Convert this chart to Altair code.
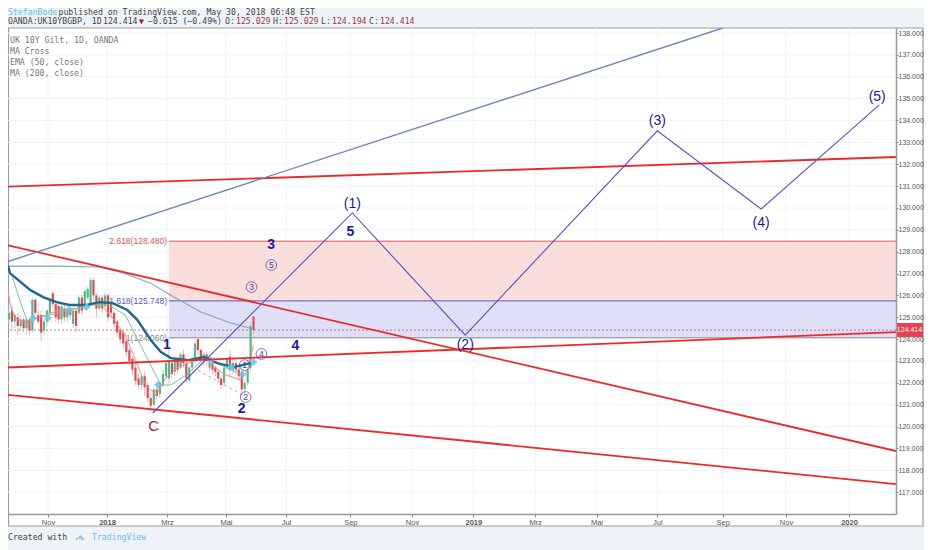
import altair as alt
import numpy as np
import pandas as pd

MONO = "DejaVu Sans Mono"
SANS = "Liberation Sans"

candle_dates = pd.date_range("2017-09-22", periods=84, freq="3D").strftime("%Y-%m-%d").tolist()
opens = [124.9,125.3,124.8,125.0,124.6,124.9,124.5,124.9,124.4,125.8,125.1,125.1,124.4,124.8,125.2,126.1,125.6,125.5,124.9,125.4,
         125.0,125.4,124.7,125.3,125.2,125.9,125.4,125.9,125.6,126.7,126.0,125.4,125.9,125.5,126.0,125.6,125.2,124.8,124.4,124.3,
         123.9,123.5,123.1,122.7,122.2,121.9,122.3,121.9,121.3,121.0,121.7,121.5,121.9,122.3,122.2,122.9,122.5,123.1,122.7,123.3,
         122.9,122.1,122.7,123.0,124.0,123.5,123.0,123.3,122.7,122.9,122.7,122.5,122.2,122.0,122.7,123.2,122.6,122.9,122.6,122.5,
         121.7,122.0,122.7,125.029]
closes = [125.2,124.8,125.1,124.6,124.9,124.5,124.9,124.4,125.8,125.2,124.8,124.3,124.8,125.3,125.8,125.6,125.0,124.9,125.5,125.0,
          125.4,125.1,125.3,124.6,125.9,125.3,126.2,126.3,126.7,126.0,125.4,125.9,125.4,126.0,125.0,125.2,124.7,124.3,124.0,123.8,
          123.4,123.0,122.6,122.1,121.9,122.3,121.8,121.3,120.95,121.7,121.4,122.0,122.4,122.9,123.0,122.4,123.1,122.6,123.3,122.9,
          122.2,122.7,123.1,123.8,123.5,123.1,123.3,123.0,123.0,122.6,122.5,122.2,121.9,122.7,123.1,122.6,122.9,122.6,122.3,121.7,
          122.0,122.6,124.6,124.414]
highs = [125.4,125.5,125.2,125.2,125.1,125.0,125.0,125.0,125.9,125.9,125.3,125.3,124.9,125.4,125.9,126.2,125.8,125.7,125.6,125.6,
         125.5,125.6,125.4,125.4,126.0,126.0,126.3,126.4,126.8,126.8,126.1,126.0,126.0,126.1,126.1,125.7,125.3,124.9,124.5,124.4,
         124.0,123.6,123.2,122.9,122.4,122.4,122.5,122.0,121.5,121.8,122.0,122.1,122.6,123.0,123.6,123.0,123.2,123.2,123.4,123.5,
         123.1,122.8,123.2,123.9,124.1,123.6,123.4,123.4,123.1,123.0,122.8,122.6,122.3,122.8,123.2,123.5,123.2,123.0,122.7,122.6,
         122.1,122.7,124.8,125.029]
lows = [124.7,124.4,124.5,124.2,124.4,124.3,124.2,124.2,124.3,125.1,124.7,123.9,124.2,124.6,125.1,125.4,124.8,124.7,124.7,124.8,
        124.8,124.9,124.5,124.3,125.1,125.1,125.3,125.8,125.5,125.8,125.0,125.3,125.2,125.4,124.8,125.0,124.5,124.1,123.8,123.6,
        123.2,122.8,122.4,121.9,121.7,121.7,121.4,121.1,120.7,120.6,121.2,121.3,121.8,122.2,122.0,122.2,122.3,122.4,122.6,122.7,
        122.0,122.0,122.5,122.8,123.3,122.9,122.8,122.8,122.5,122.4,122.3,122.0,121.7,121.8,122.6,122.3,122.4,122.4,122.1,121.4,
        121.5,121.9,122.5,124.194]

# ---------- indicators ----------
ema_dates = ["2017-09-21","2017-09-23","2017-10-14","2017-10-27","2017-11-10","2017-11-23","2017-12-11","2017-12-24","2018-01-06","2018-01-21",
             "2018-01-31","2018-02-13","2018-02-23","2018-03-05","2018-03-23","2018-04-08","2018-04-22","2018-05-09","2018-05-26"]
ema_vals = [127.35,127.02,126.24,125.92,125.69,125.56,125.56,125.69,125.65,125.33,124.87,123.96,123.41,123.13,123.04,123.18,122.90,122.72,122.90]
ma200_dates = ["2017-09-21","2017-11-06","2017-12-24","2018-01-17","2018-02-13","2018-03-05","2018-04-05","2018-05-03","2018-05-28"]
ma200_vals = [127.34,127.34,127.30,127.02,126.56,126.01,125.24,124.78,124.46]
fast_dates = ["2017-09-21","2017-09-23","2017-09-28","2017-10-09","2017-10-14","2017-10-29","2017-11-13","2017-12-04","2017-12-19","2017-12-29","2018-01-08","2018-01-19",
              "2018-01-29","2018-02-08","2018-02-18","2018-02-28","2018-03-11","2018-03-26","2018-04-10","2018-04-20","2018-05-01","2018-05-16","2018-05-23","2018-05-29"]
fast_vals = [126.20,125.65,124.96,124.78,124.87,125.10,125.33,125.42,125.65,125.42,124.87,124.18,123.04,121.90,121.44,122.22,122.68,122.95,123.13,122.68,122.36,122.13,122.58,123.73]
slow_dates = ["2017-09-25","2017-10-03","2017-10-12","2017-10-19","2017-11-03","2017-11-23","2017-12-14","2018-01-03","2018-01-19","2018-01-29","2018-02-13","2018-02-23",
              "2018-03-05","2018-03-21","2018-04-10","2018-04-26","2018-05-11","2018-05-24"]
slow_vals = [126.93,125.79,124.64,124.96,125.10,125.33,125.56,125.56,125.10,124.18,122.81,121.90,121.90,122.36,123.18,122.81,122.49,123.04]
cross_dates = ["2017-10-17","2017-11-01","2017-11-23","2017-12-11","2018-02-20","2018-04-15","2018-05-06","2018-05-18","2018-05-29"]
cross_vals = [124.96,124.96,125.33,125.47,121.90,123.04,122.72,122.40,122.95]

# ---------- drawings ----------
line_ends = ["2017-09-21", "2020-02-15"]
red_upper = [130.97, 132.33]
red_falling = [128.29, 118.88]
red_middle = [122.70, 124.32]
red_lower = [121.45, 117.37]
blue_dates = ["2017-09-21", "2019-09-01"]
blue_vals = [127.55, 138.23]
wave_dates = ["2018-02-15", "2018-09-03", "2018-12-24", "2019-07-01", "2019-10-08", "2020-01-30"]
wave_vals = [120.62, 129.77, 124.18, 133.53, 129.95, 134.71]
dash_dates = ["2018-04-02", "2018-05-18"]
dash_vals = [122.58, 121.44]
fib_start = "2018-03-03"
fib_end = "2020-02-15"
fib_label_date = "2018-03-01"
fib_levels = [128.480, 125.748, 124.060]
fib_texts = ["2.618(128.480)", "1.618(125.748)", "1(124.060)"]
fib_colors = ["#e2534f", "#5a55c8", "#8a8a8a"]
last_price = 124.414

wave_text = ["(1)", "(2)", "(3)", "(4)", "(5)"]
wave_text_dates = ["2018-09-03", "2018-12-24", "2019-07-01", "2019-10-08", "2020-01-28"]
wave_text_vals = [130.18, 123.73, 133.97, 129.31, 135.07]
num_text = ["5", "3", "1", "4", "2"]
num_dates = ["2018-09-01", "2018-06-16", "2018-03-01", "2018-07-10", "2018-05-17"]
num_vals = [128.90, 128.30, 123.75, 123.68, 120.80]
circ_text = ["1", "2", "3", "5", "4"]
circ_dates = ["2018-05-20", "2018-05-21", "2018-05-27", "2018-06-16", "2018-06-06"]
circ_vals = [122.81, 121.35, 126.38, 127.39, 123.32]

y_ticks = list(range(117, 139))
x_tick_dates = ["2017-11-01","2018-01-01","2018-03-01","2018-05-01","2018-07-01","2018-09-01","2018-11-01",
                "2019-01-01","2019-03-01","2019-05-01","2019-07-01","2019-09-01","2019-11-01","2020-01-01"]
x_tick_labels = ["Nov","2018","Mrz","Mai","Jul","Sep","Nov","2019","Mrz","Mai","Jul","Sep","Nov","2020"]
# TradingView spaces bars unevenly: its time axis is an index, read here as date -> index pairs
index_dates = ["2017-09-21"] + x_tick_dates + ["2020-02-15"]
index_vals = [0, 40, 99, 159, 218, 278, 342.3, 404, 465.3, 527.3, 588.5, 649.3, 714.7, 778, 841, 888]
index_stamps = pd.to_datetime(index_dates).astype("int64").to_numpy(dtype=float)


def idx(dates):
    stamps = pd.to_datetime(list(dates)).astype("int64").to_numpy(dtype=float)
    return [round(float(v), 2) for v in np.interp(stamps, index_stamps, index_vals)]


x_ticks = idx(x_tick_dates)
label_map = ", ".join(f"'{v:g}': '{t}'" for v, t in zip(x_ticks, x_tick_labels))
label_expr = "{" + label_map + "}[''+datum.value]"
bold_ticks = [v for v, t in zip(x_ticks, x_tick_labels) if t.isdigit()]

Y_SCALE = alt.Scale(domain=[116.0, 138.23], nice=False, zero=False)
Y_AXIS = alt.Axis(orient="right", values=y_ticks, format=".3f", grid=False, zindex=1,
                  labelFont=SANS, labelFontSize=7, labelColor="#555555", labelPadding=0, labelOverlap=False,
                  tickColor="#888888", tickSize=2, domainColor="#9a9a9a", domainWidth=1.5)

X = alt.X("d:Q", title=None,
          scale=alt.Scale(domain=[0, 888], nice=False, zero=False, padding=0),
          axis=alt.Axis(values=x_ticks, labelExpr=label_expr, grid=False, zindex=1,
                        labelFont=SANS, labelFontSize=7.5, labelColor="#555555", labelPadding=1, labelOverlap=False,
                        labelFontWeight=alt.expr(f"indexof({bold_ticks}, datum.value) >= 0 ? 'bold' : 'normal'"),
                        tickColor="#888888", tickSize=3, domainColor="#9a9a9a", domainWidth=1.5))
Y = alt.Y("p:Q", title=None, scale=Y_SCALE, axis=Y_AXIS)


def frame(dates, vals):
    return pd.DataFrame({"d": idx(dates), "p": vals})


def line(dates, vals, color, width, **kw):
    return alt.Chart(frame(dates, vals)).mark_line(color=color, strokeWidth=width, clip=True, **kw).encode(x=X, y=Y)


def furn(text, px, py, color="#555555", size=8.2, font=MONO, align="left", weight="normal"):
    return alt.Chart(alt.Data(values=[{"t": text}])).mark_text(
        align=align, baseline="middle", color=color, fontSize=size, font=font, fontWeight=weight
    ).encode(text="t:N", x=alt.value(px), y=alt.value(py))


paper = alt.Chart(alt.Data(values=[{}])).mark_rect(fill="white", stroke="#9c9c9c", strokeWidth=1.2).encode(
    x=alt.value(0.5), x2=alt.value(915), y=alt.value(0), y2=alt.value(498))

grid_v = alt.Chart(pd.DataFrame({"d": x_ticks})).mark_rule(color="#f0f3f7", strokeWidth=1).encode(x=X)
grid_h = alt.Chart(pd.DataFrame({"p": y_ticks})).mark_rule(color="#f0f3f7", strokeWidth=1).encode(y=Y)

bands = pd.DataFrame({"d": idx([fib_start, fib_start]), "d2": idx([fib_end, fib_end]),
                      "p": fib_levels[:2], "p2": fib_levels[1:], "c": ["#f9dedb", "#dfdff8"]})
band_rects = alt.Chart(bands).mark_rect(clip=True).encode(
    x=X, x2="d2:Q", y=Y, y2="p2:Q", color=alt.Color("c:N", scale=None))
level_df = pd.DataFrame({"d": idx([fib_start] * 3), "d2": idx([fib_end] * 3), "p": fib_levels, "c": fib_colors,
                         "t": fib_texts, "dl": idx([fib_label_date] * 3)})
level_rules = alt.Chart(level_df).mark_rule(strokeWidth=1, clip=True).encode(
    x=X, x2="d2:Q", y=Y, color=alt.Color("c:N", scale=None))
level_text = alt.Chart(level_df).mark_text(align="right", baseline="middle", font=SANS, fontSize=8.5).encode(
    x=alt.X("dl:Q"), y=Y, text="t:N", color=alt.Color("c:N", scale=None))

last_rule = alt.Chart(pd.DataFrame({"p": [last_price]})).mark_rule(
    color="#d8505a", strokeWidth=0.8, strokeDash=[2, 2]).encode(y=Y)

candles = pd.DataFrame({"d": idx(candle_dates), "o": opens, "c": closes, "h": highs, "l": lows})
candles["col"] = ["#55b88a" if c >= o else "#dd4a55" for o, c in zip(opens, closes)]
candles["wick"] = ["#a9dcc4" if c >= o else "#f0b0b4" for o, c in zip(opens, closes)]
wicks = alt.Chart(candles).mark_rule(strokeWidth=1).encode(
    x=X, y=alt.Y("l:Q", title=None, scale=Y_SCALE, axis=Y_AXIS), y2="h:Q", color=alt.Color("wick:N", scale=None))
bodies = alt.Chart(candles).mark_bar(size=2.2).encode(
    x=X, y=alt.Y("o:Q", title=None, scale=Y_SCALE, axis=Y_AXIS), y2="c:Q", color=alt.Color("col:N", scale=None))

crosses = alt.Chart(frame(cross_dates, cross_vals)).mark_point(
    shape="cross", filled=True, color="#6ec6ee", size=45, opacity=0.9).encode(x=X, y=Y)

wave_lab = alt.Chart(pd.DataFrame({"d": idx(wave_text_dates), "p": wave_text_vals, "t": wave_text})).mark_text(
    font=SANS, fontSize=14, color="#1c1c96", align="center", baseline="middle").encode(x=X, y=Y, text="t:N")
num_lab = alt.Chart(pd.DataFrame({"d": idx(num_dates), "p": num_vals, "t": num_text})).mark_text(
    font=SANS, fontSize=14, fontWeight="bold", color="#1c1c96", align="center", baseline="middle").encode(x=X, y=Y, text="t:N")
c_lab = alt.Chart(pd.DataFrame({"d": idx(["2018-02-16"]), "p": [120.02], "t": ["C"]})).mark_text(
    font=SANS, fontSize=15, color="#8a2f55", align="center", baseline="middle").encode(x=X, y=Y, text="t:N")
circ_df = pd.DataFrame({"d": idx(circ_dates), "p": circ_vals, "t": circ_text})
circ_rings = alt.Chart(circ_df).mark_point(shape="circle", filled=False, color="#4a3fb0", size=115, strokeWidth=1).encode(x=X, y=Y)
circ_lab = alt.Chart(circ_df).mark_text(font=SANS, fontSize=8.5, color="#4a3fb0", align="center", baseline="middle").encode(
    x=X, y=Y, text="t:N")

price_box = alt.Chart(alt.Data(values=[{}])).mark_rect(fill="#e8404f").encode(
    x=alt.value(888), x2=alt.value(915), y=alt.value(295), y2=alt.value(309))

logo = alt.Chart(alt.Data(values=[{}])).mark_point(
    shape="M-1 .6 C-1.2 .1 -.8 -.2 -.5 -.1 L-.1 -.6 C.2 -.9 .5 -.6 .5 -.2 C1 -.3 1.2 .3 1 .6 L.4 .6 L.1 .1 L-.2 .4 L-.5 0 L-.8 .6 Z",
    filled=True, color="#5db4e6", size=55).encode(x=alt.value(72), y=alt.value(510))

chart = alt.layer(
    paper, grid_v, grid_h,
    band_rects, level_rules, level_text, last_rule,
    line(ma200_dates, ma200_vals, "#7fa7b5", 1.1),
    line(dash_dates, dash_vals, "#9a9a9a", 0.8, strokeDash=[3, 3]),
    wicks, bodies,
    line(slow_dates, slow_vals, "#86bd9c", 1),
    line(fast_dates, fast_vals, "#ef8a8a", 1),
    line(ema_dates, ema_vals, "#20688f", 2.4),
    crosses,
    line(line_ends, red_upper, "#ec2a2a", 1.8),
    line(line_ends, red_falling, "#ec2a2a", 1.8),
    line(line_ends, red_middle, "#ec2a2a", 1.8),
    line(line_ends, red_lower, "#ec2a2a", 1.8),
    line(blue_dates, blue_vals, "#6f87bb", 1.4),
    line(wave_dates, wave_vals, "#5a50c8", 1.1),
    wave_lab, num_lab, c_lab, circ_rings, circ_lab,
    price_box,
    furn("124.414", 901.5, 302, color="white", size=7, font=SANS, align="center"),
    furn("UK 10Y Gilt, 1D, OANDA", 2, 13, color="#777777"),
    furn("MA Cross", 2, 24, color="#777777"),
    furn("EMA (50, close)", 2, 35, color="#777777"),
    furn("MA (200, close)", 2, 46, color="#777777"),
    furn("StefanBode", 0, -15.5, color="#62c3d8"),
    furn("published on TradingView.com, May 30, 2018 06:48 EST", 50.5, -15.5, color="#444444"),
    furn("OANDA:UK10YBGBP, 1D", 0, -6, color="#444444"),
    furn("124.414", 95, -6, color="#444444"),
    furn("\u25bc", 131, -6, color="#a5121f"),
    furn("\u22120.615 (\u22120.49%)", 140, -6, color="#444444"),
    furn("O:", 217, -6, color="#444444"),
    furn("125.029", 228, -6, color="#a83245"),
    furn("H:", 265, -6, color="#444444"),
    furn("125.029", 276, -6, color="#a83245"),
    furn("L:", 313, -6, color="#444444"),
    furn("124.194", 324, -6, color="#a83245"),
    furn("C:", 361, -6, color="#444444"),
    furn("124.414", 372, -6, color="#a83245"),
    furn("Created with", 0, 510, color="#444444"),
    logo,
    furn("TradingView", 84, 510, color="#6cc0e8"),
).properties(
    width=888, height=486,
    padding={"left": 0, "top": 20, "right": 28, "bottom": 36},
    autosize=alt.AutoSizeParams(type="none"),
    background="#eef3f8",
).configure_view(strokeWidth=0)

chart.save("out.html", embed_options={"renderer": "svg", "actions": False})
